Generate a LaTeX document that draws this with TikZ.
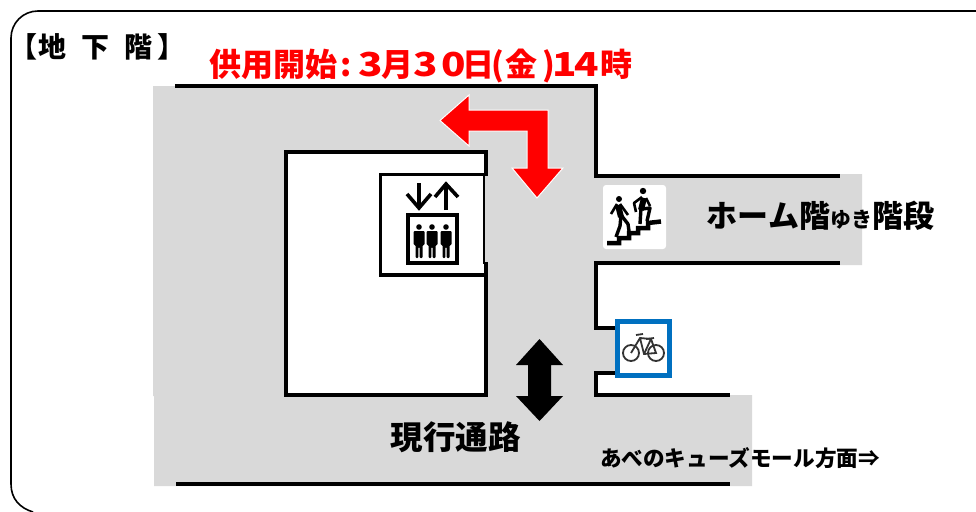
\documentclass[tikz,border=0pt]{standalone}
\usepackage{fontspec}
\setmainfont{Noto Sans CJK JP Black}
\newcommand{\pcat}[2]{\rlap{\hspace{#1pt}\makebox[0pt]{#2}}}
\newcommand{\wdg}[1]{\scalebox{1.22}[1]{\fontsize{33}{33}\selectfont #1}}
\begin{document}
\begin{tikzpicture}[x=1pt,y=-1pt,
  wall/.style={line width=4pt,line cap=butt,line join=miter},
  lbl/.style={font=\fontsize{#1}{#1}\selectfont,inner sep=0pt,anchor=center}]
\useasboundingbox (0,0) rectangle (976,511);
\fill[white] (0,0) rectangle (976,511);
\draw[line width=1.6pt,black] (976,11) -- (38,11) .. controls (23,11) and (11,23) .. (11,38) -- (11,484) .. controls (11,499) and (20,508) .. (33,512);
% floor
\fill[gray!30] (153,86) -- (596,86) -- (596,174) -- (862,174) -- (862,265) -- (596,265) -- (596,328) -- (616,328) -- (616,373) -- (596,373) -- (596,395) -- (752,395) -- (752,486) -- (154,486) -- (154,396) -- (153,396) -- cycle;
\fill[white] (286,152) rectangle (486,395);
% walls
\coordinate (wa) at (175,86);
\coordinate (wb) at (596,86);
\coordinate (wc) at (596,176);
\coordinate (wd) at (840,176);
\coordinate (we) at (840,263);
\coordinate (wf) at (596,263);
\coordinate (wg) at (596,328);
\coordinate (wh) at (616,328);
\coordinate (wi) at (616,373);
\coordinate (wj) at (596,373);
\coordinate (wk) at (596,395);
\coordinate (wl) at (730,395);
\coordinate (wm) at (176,484);
\coordinate (wn) at (730,484);
\draw[wall] (wa) -- (wb) -- (wc) -- (wd);
\draw[wall] (we) -- (wf) -- (wg) -- (wh);
\draw[wall] (wi) -- (wj) -- (wk) -- (wl);
\draw[wall] (wm) -- (wn);
\draw[wall] (286,152) rectangle (486,395);
% elevator sign
\fill[white] (382,176) rectangle (483,273.5);
\fill[gray!30] (484.3,176) rectangle (488,262);
\draw[line width=3.4pt] (483.5,174.5) -- (380.5,174.5) -- (380.5,275) -- (483.5,275);
\draw[line width=2pt] (483.6,174) -- (483.6,264);
\draw[wall] (486,152) -- (486,176);
\draw[wall] (486,262) -- (486,395);
% elevator icon
\draw[line width=3.6pt] (419,183) -- (419,207);
\draw[line width=3.6pt] (407,194) -- (419,208) -- (431,194);
\draw[line width=3.6pt] (446,210) -- (446,185);
\draw[line width=3.6pt] (435,197) -- (446,184) -- (458,197);
\draw[line width=4pt] (408,215) rectangle (457,263);
\foreach \px in {419,432,446}{
  \begin{scope}[shift={(\px,0)}]
  \fill (0,227) circle[radius=2.8];
  \fill[rounded corners=1pt] (-5.5,231) -- (5.5,231) -- (5.5,245) -- (3.5,245) -- (3.5,258) -- (0.7,258) -- (0.7,247) -- (-0.7,247) -- (-0.7,258) -- (-3.5,258) -- (-3.5,245) -- (-5.5,245) -- cycle;
  \end{scope}}
% stairs icon
\fill[white,rounded corners=3pt] (603,185) rectangle (666,249);
\draw[line width=4.5pt,line join=miter] (607,243) -- (619,243) -- (619,238) -- (629,238) -- (629,233) -- (638,233) -- (638,228) -- (648,228) -- (648,223) -- (661,221.5);
\fill (619,199) circle[radius=3];
\fill (643,191) circle[radius=3.2];
\draw[line width=6pt,line join=round] (618,205) -- (621,217);
\draw[line width=3.4pt,line join=round] (621,215) -- (628,224) -- (629,231);
\draw[line width=3.4pt,line join=round] (621,215) -- (620,226) -- (616,237);
\draw[line width=2.6pt,line join=round] (617,204) -- (611,214);
\draw[line width=2.6pt,line join=round] (620,204) -- (628,215);
\draw[line width=6pt,line join=round] (644,198) -- (641,210);
\draw[line width=3.4pt,line join=round] (641,208) -- (640,224);
\draw[line width=3.4pt,line join=round] (642,209) -- (650,208) -- (647,221);
\draw[line width=2.6pt,line join=round] (642,197) -- (634,203) -- (636,212);
\draw[line width=2.6pt,line join=round] (646,198) -- (650,206);
% bicycle icon
\draw[line width=5pt,draw={rgb,255:red,0;green,112;blue,192},fill=white] (617.5,321.5) rectangle (669.5,375.5);
\begin{scope}[line width=1.8pt,draw=black!80]
\draw (631,353) circle[radius=8];
\draw (656,353) circle[radius=8];
\draw (631,353) -- (640,338) -- (651,339) -- (656,353) -- (644,354) -- (640,338);
\draw (644,354) -- (651,339);
\draw (636,335) -- (643,334);
\draw (646,339) -- (654,338);
\end{scope}
% red arrow
\node[inner sep=0pt,minimum size=0pt] (ra) at (440,120.5) {};
\node[inner sep=0pt,minimum size=0pt] (rb) at (537,198) {};
\draw[draw=white,line width=1pt,fill=red,line join=miter] (ra.center) -- (469,95) -- (469,110) -- (548,110) -- (548,168) -- (563,168) -- (rb.center) -- (512,168) -- (527,168) -- (527,131) -- (469,131) -- (469,146) -- cycle;
% black arrow
\node[inner sep=0pt,minimum size=0pt] (ba) at (539.5,339) {};
\node[inner sep=0pt,minimum size=0pt] (bb) at (539.5,421) {};
\fill (ba.center) -- (563,365) -- (551,365) -- (551,396) -- (563,396) -- (bb.center) -- (516,396) -- (528,396) -- (528,365) -- (516,365) -- cycle;
% text
\node[lbl=28] (t1) at (97.5,47) {【\hspace{1pt}地\hspace{15pt}下\hspace{15pt}階\hspace{5pt}】};
\node[lbl=32,text=red,anchor=base west] (t2) at (200,76) {\pcat{73}{供用開始}\pcat{145}{:}\pcat{170}{\wdg{3}}\pcat{197}{月}\pcat{225}{\wdg{3}}\pcat{253}{\wdg{0}}\pcat{278}{日}\pcat{297}{(}\pcat{321}{金}\pcat{348}{)}\pcat{364}{\wdg{1}}\pcat{386}{\wdg{4}}\pcat{416}{時}};
\node[lbl=31] (t3) at (820.5,216) {ホーム階{\fontsize{21}{21}\selectfont ゆき}階段};
\node[lbl=32.5] (t4) at (455.5,437) {現行通路};
\node[lbl=21.6] (t5) at (740,458) {あべのキューズモール方面⇒};
\end{tikzpicture}
\end{document}
